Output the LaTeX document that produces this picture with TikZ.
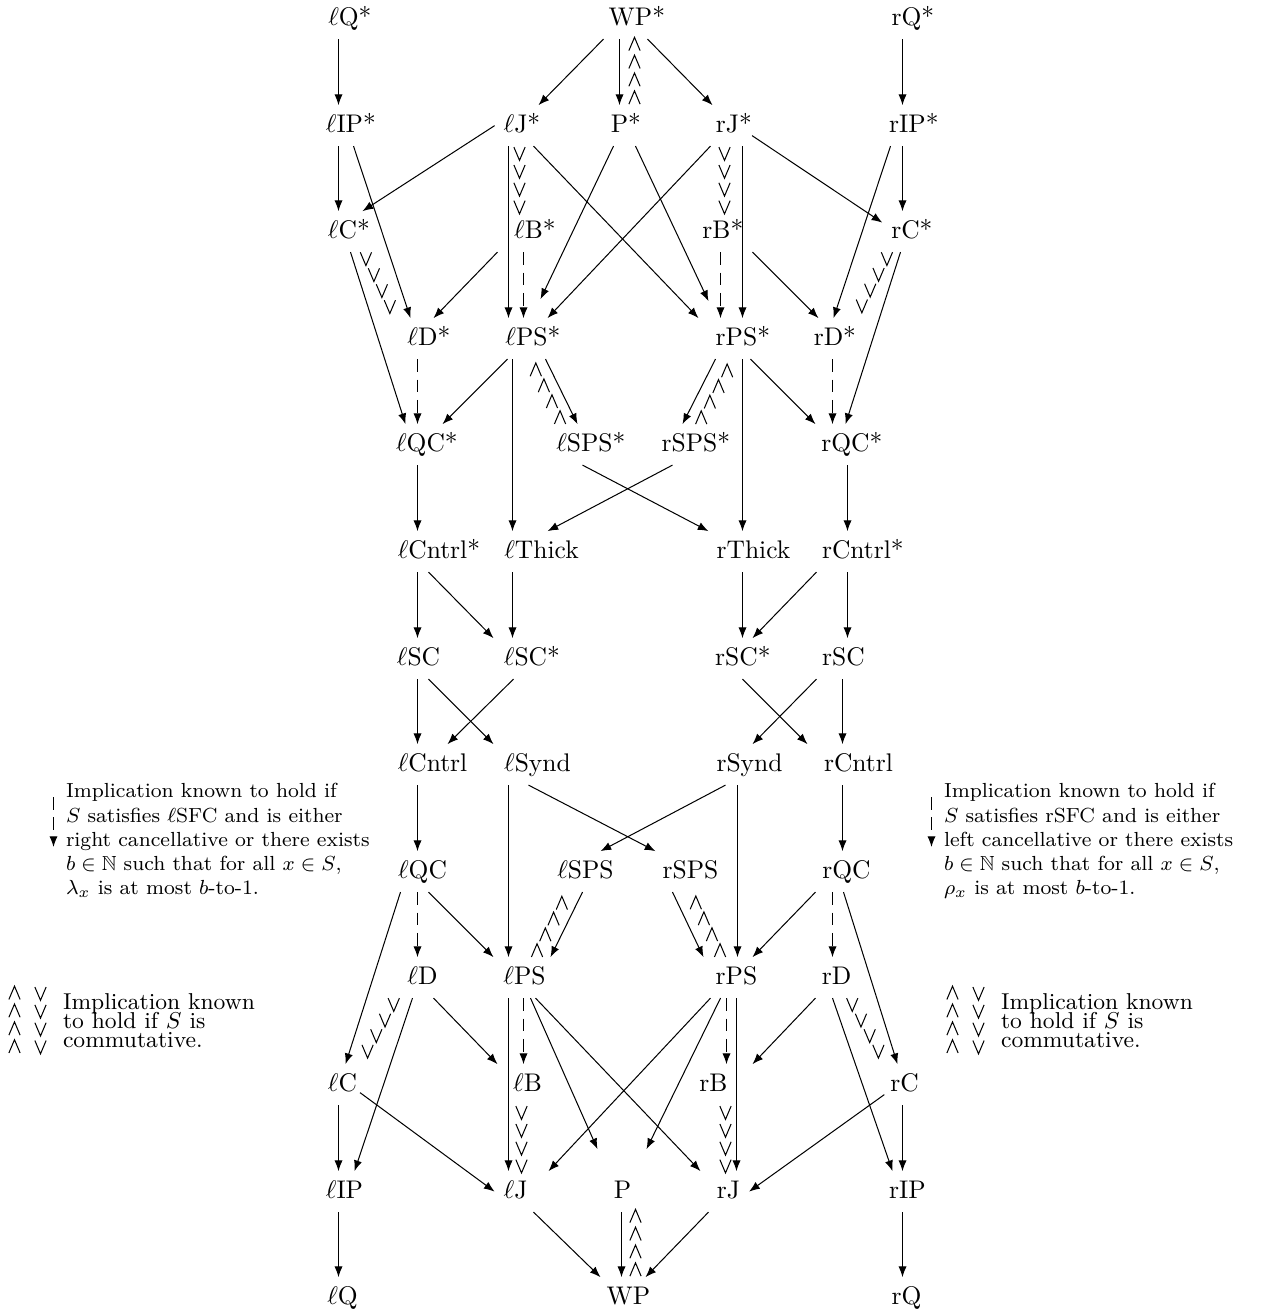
\documentclass[tikz,border=0pt]{standalone}
\usepackage{amsmath}
\usepackage{amssymb}
\usetikzlibrary{arrows.meta,calc,decorations.markings}

\tikzset{
  prop/.style={anchor=base, inner sep=3.33pt, text height=7pt, text depth=2pt},
  imp/.style={->},
  condimp/.style={->, dash pattern=on 5pt off 3pt},
  % chains of upright wedges: commdown draws \vee's, commup draws \wedge's
  commdown/.style={decorate, decoration={markings,
      mark=between positions 3pt and 1 step 7pt with {\pgftransformresetnontranslations
        \draw (-2.2pt,2.6pt) -- (0pt,-2.6pt) -- (2.2pt,2.6pt);}}},
  commup/.style={decorate, decoration={markings,
      mark=between positions 3pt and 1 step 7pt with {\pgftransformresetnontranslations
        \draw (-2.2pt,-2.6pt) -- (0pt,2.6pt) -- (2.2pt,-2.6pt);}}},
  legendtext/.style={font=\footnotesize, align=left, inner sep=0pt, anchor=north west},
  commtext/.style={font=\small, align=left, inner sep=0pt, anchor=north west},
}

\begin{document}
\begin{tikzpicture}[x=0.3922pt, y=-0.3922pt, >={Latex[length=4.2pt,width=3.2pt]}]
\useasboundingbox (0,0) rectangle (1263,1311);
\begin{scope}[shift={(0.5,0)}]

% row 0
\node[prop] (lQs) at (343,25) {$\ell$Q\rlap{*}};
\node[prop] (WPs) at (630,25) {WP\rlap{*}};
\node[prop] (rQs) at (906,25) {rQ\rlap{*}};
% row 1
\node[prop] (lIPs) at (344,132) {$\ell$IP\rlap{*}};
\node[prop] (lJs) at (515,132) {$\ell$J\rlap{*}};
\node[prop] (Ps) at (619,132) {P\rlap{*}};
\node[prop] (rJs) at (727,132) {rJ\rlap{*}};
\node[prop] (rIPs) at (907,132) {rIP\rlap{*}};
% row 2
\node[prop] (lCs) at (342,238) {$\ell$C\rlap{*}};
\node[prop] (lBs) at (528,238) {$\ell$B\rlap{*}};
\node[prop] (rBs) at (716,238) {rB\rlap{*}};
\node[prop] (rCs) at (905,238) {rC\rlap{*}};
% row 3
\node[prop] (lDs) at (422,345) {$\ell$D\rlap{*}};
\node[prop] (lPSs) at (526,345) {$\ell$PS\rlap{*}};
\node[prop] (rPSs) at (736,345) {rPS\rlap{*}};
\node[prop] (rDs) at (828,345) {rD\rlap{*}};
% row 4
\node[prop] (lQCs) at (420,451) {$\ell$QC\rlap{*}};
\node[prop] (lSPSs) at (584,451) {$\ell$SPS\rlap{*}};
\node[prop] (rSPSs) at (689,451) {rSPS\rlap{*}};
\node[prop] (rQCs) at (845,451) {rQC\rlap{*}};
% row 5
\node[prop] (lCntrls) at (432,558) {$\ell$Cntrl\rlap{*}};
\node[prop] (lThick) at (541,558) {$\ell$Thick};
\node[prop] (rThick) at (753,558) {rThick};
\node[prop] (rCntrls) at (856,558) {rCntrl\rlap{*}};
% row 6
\node[prop] (lSC) at (418,665) {$\ell$SC};
\node[prop] (lSCs) at (525,665) {$\ell$SC\rlap{*}};
\node[prop] (rSCs) at (736,665) {rSC\rlap{*}};
\node[prop] (rSC) at (843,665) {rSC};
% row 7
\node[prop] (lCntrl) at (432,771) {$\ell$Cntrl};
\node[prop] (lSynd) at (537,771) {$\ell$Synd};
\node[prop] (rSynd) at (749,771) {rSynd};
\node[prop] (rCntrl) at (858,771) {rCntrl};
% row 8
\node[prop] (lQC) at (422,878) {$\ell$QC};
\node[prop] (lSPS) at (585,878) {$\ell$SPS};
\node[prop] (rSPS) at (690,878) {rSPS};
\node[prop] (rQC) at (846,878) {rQC};
% row 9
\node[prop] (lD) at (422,984) {$\ell$D};
\node[prop] (lPS) at (524,984) {$\ell$PS};
\node[prop] (rPS) at (736,984) {rPS};
\node[prop] (rD) at (836,984) {rD};
% row 10
\node[prop] (lC) at (342,1091) {$\ell$C};
\node[prop] (lB) at (527,1091) {$\ell$B};
\node[prop] (rB) at (713,1091) {rB};
\node[prop] (rC) at (904,1091) {rC};
% row 11
\node[prop] (lIP) at (344,1198) {$\ell$IP};
\node[prop] (lJ) at (515,1198) {$\ell$J};
\node[prop] (P) at (622,1198) {P};
\node[prop] (rJ) at (728,1198) {rJ};
\node[prop] (rIP) at (907,1198) {rIP};
% row 12
\node[prop] (lQ) at (342,1304) {$\ell$Q};
\node[prop] (WP) at (628,1304) {WP};
\node[prop] (rQ) at (906,1304) {rQ};

% top half
\draw[imp] ($(lQs.south)+(-5,0)$) -- ($(lIPs.north)+(-6,0)$);
\draw[imp] ($(WPs.south)+(-27,0)$) -- ($(lJs.north)+(23,0)$);
\draw[imp] ($(WPs.south)+(-11,0)$) -- (Ps.north);
\path[commup] ($(Ps.north)+(15,0)$) -- ($(WPs.south)+(4,0)$);
\draw[imp] ($(WPs.south)+(17,0)$) -- ($(rJs.north)+(-15,0)$);
\draw[imp] ($(rQs.south)+(-4,0)$) -- ($(rIPs.north)+(-5,0)$);

\draw[imp] ($(lIPs.south)+(-6,0)$) -- ($(lCs.north)+(-4,0)$);
\draw[imp] ($(lIPs.south)+(9,0)$) -- ($(lDs.north)+(-12,0)$);
\draw[imp] (lJs.west) -- ($(lCs.north)+(20,0)$);
\path[commdown] ($(lJs.south)+(4,0)$) -- ($(lBs.north)+(-9,0)$);
\draw[imp] ($(lJs.south)+(-7,0)$) -- ($(lPSs.north)+(-18,0)$);
\draw[imp] ($(lJs.south)+(18,0)$) -- ($(rPSs.north)+(-38,0)$);
\draw[imp] ($(Ps.south)+(-6,0)$) -- ($(lPSs.north)+(14,-19)$);
\draw[imp] ($(Ps.south)+(16,0)$) -- ($(rPSs.north)+(-28,-17)$);
\draw[imp] ($(rJs.south)+(-17,0)$) -- ($(lPSs.north)+(21,0)$);
\path[commdown] ($(rJs.south)+(-3,0)$) -- ($(rBs.north)+(8,0)$);
\draw[imp] ($(rJs.south)+(15,0)$) -- ($(rPSs.north)+(6,0)$);
\draw[imp] ($(rJs.east)+(4,10)$) -- ($(rCs.west)+(0,-9)$);
\draw[imp] ($(rIPs.south)+(-5,0)$) -- ($(rCs.north)+(-3,0)$);
\draw[imp] ($(rIPs.south)+(-17,0)$) -- ($(rDs.north)+(5,0)$);

\path[commdown] ($(lCs.south)+(20,0)$) -- ($(lDs.north)+(-27,0)$);
\draw[imp] ($(lCs.south)+(8,0)$) -- ($(lQCs.north)+(-15,0)$);
\draw[imp] ($(lBs.south)+(-31,0)$) -- ($(lDs.north)+(11,0)$);
\draw[condimp] ($(lBs.south)+(-5,0)$) -- ($(lPSs.north)+(-3,0)$);
\draw[condimp] ($(rBs.south)+(4,0)$) -- ($(rPSs.north)+(-16,0)$);
\draw[imp] ($(rBs.south)+(36,0)$) -- ($(rDs.north)+(-10,0)$);
\path[commdown] ($(rCs.south)+(-15,0)$) -- ($(rDs.north)+(27,0)$);
\draw[imp] ($(rCs.south)+(-5,0)$) -- (rQCs.north);

\draw[condimp] ($(lDs.south)+(-5,0)$) -- ($(lQCs.north)+(-3,0)$);
\draw[imp] ($(lPSs.south)+(-19,0)$) -- ($(lQCs.north)+(22,0)$);
\draw[imp] ($(lPSs.south)+(19,0)$) -- ($(lSPSs.north)+(-7,0)$);
\path[commup] ($(lSPSs.north)+(-21,0)$) -- ($(lPSs.south)+(4,0)$);
\draw[imp] ($(lPSs.south)+(-14,0)$) -- ($(lThick.north)+(-29,0)$);
\draw[imp] ($(rPSs.south)+(-21,0)$) -- ($(rSPSs.north)+(-7,0)$);
\path[commup] ($(rSPSs.north)+(8,0)$) -- ($(rPSs.south)+(-3,0)$);
\draw[imp] ($(rPSs.south)+(6,0)$) -- ($(rThick.north)+(-11,0)$);
\draw[imp] ($(rPSs.south)+(14,0)$) -- ($(rQCs.north)+(-30,0)$);
\draw[condimp] ($(rDs.south)+(4,0)$) -- ($(rQCs.north)+(-13,0)$);

\draw[imp] ($(lQCs.south)+(-3,0)$) -- ($(lCntrls.north)+(-15,0)$);
\draw[imp] ($(lSPSs.south)+(-2,0)$) -- ($(rThick.north)+(-45,0)$);
\draw[imp] ($(rSPSs.south)+(-17,0)$) -- ($(lThick.north)+(6,0)$);
\draw[imp] ($(rQCs.south)+(2,0)$) -- ($(rCntrls.north)+(-9,0)$);

% middle
\draw[imp] ($(lCntrls.south)+(-15,0)$) -- ($(lSC.north)+(-1,0)$);
\draw[imp] ($(lCntrls.south)+(-4,0)$) -- ($(lSCs.north)+(-32,0)$);
\draw[imp] ($(lThick.south)+(-29,0)$) -- ($(lSCs.north)+(-13,0)$);
\draw[imp] ($(rThick.south)+(-11,0)$) -- ($(rSCs.north)+(6,0)$);
\draw[imp] ($(rCntrls.south)+(-40,0)$) -- ($(rSCs.north)+(16,0)$);
\draw[imp] ($(rCntrls.south)+(-9,0)$) -- ($(rSC.north)+(4,0)$);

\draw[imp] ($(lSC.south)+(-1,0)$) -- ($(lCntrl.north)+(-15,0)$);
\draw[imp] ($(lSC.south)+(10,0)$) -- ($(lSynd.north)+(-44,0)$);
\draw[imp] ($(lSCs.south)+(-12,0)$) -- ($(lCntrl.north)+(15,0)$);
\draw[imp] ($(rSCs.south)+(6,0)$) -- ($(rCntrl.north)+(-51,0)$);
\draw[imp] ($(rSC.south)+(-27,0)$) -- ($(rSynd.north)+(3,0)$);
\draw[imp] ($(rSC.south)+(-1,0)$) -- ($(rCntrl.north)+(-16,0)$);

\draw[imp] ($(lCntrl.south)+(-15,0)$) -- ($(lQC.north)+(-5,0)$);
\draw[imp] ($(lSynd.south)+(-29,0)$) -- ($(lPS.north)+(-16,0)$);
\draw[imp] ($(lSynd.south)+(-9,0)$) -- ($(rSPS.north)+(-35,0)$);
\draw[imp] ($(rSynd.south)+(-24,0)$) -- ($(lSPS.north)+(15,0)$);
\draw[imp] ($(rSynd.south)+(-12,0)$) -- ($(rPS.north)+(1,0)$);
\draw[imp] ($(rCntrl.south)+(-16,0)$) -- ($(rQC.north)+(-4,0)$);

% bottom half
\draw[imp] ($(lQC.south)+(-22,0)$) -- ($(lC.north)+(3,0)$);
\draw[condimp] ($(lQC.south)+(-5,0)$) -- ($(lD.north)+(-5,0)$);
\draw[imp] ($(lQC.south)+(6,0)$) -- ($(lPS.north)+(-31,0)$);
\draw[imp] ($(lSPS.south)+(-3,0)$) -- ($(lPS.north)+(26,0)$);
\path[commup] ($(lPS.north)+(9,0)$) -- ($(lSPS.south)+(-18,0)$);
\draw[imp] ($(rSPS.south)+(-18,0)$) -- ($(rPS.north)+(-33,0)$);
\path[commup] ($(rPS.north)+(-13,0)$) -- (rSPS.south);
\draw[imp] ($(rQC.south)+(-31,0)$) -- ($(rPS.north)+(16,0)$);
\draw[condimp] ($(rQC.south)+(-14,0)$) -- ($(rD.north)+(-4,0)$);
\draw[imp] ($(rQC.south)+(-3,0)$) -- ($(rC.north)+(-7,0)$);

\path[commdown] ($(lD.south)+(-25,0)$) -- ($(lC.north)+(18,0)$);
\draw[imp] ($(lD.south)+(-10,0)$) -- ($(lIP.north)+(10,0)$);
\draw[imp] ($(lD.south)+(11,0)$) -- ($(lB.north)+(-30,0)$);
\draw[imp] ($(lPS.south)+(-16,0)$) -- ($(lJ.north)+(-7,0)$);
\draw[condimp] ($(lPS.south)+(-1,0)$) -- ($(lB.north)+(-4,0)$);
\draw[imp] ($(lPS.south)+(6,0)$) -- ($(P.north)+(-25,-22)$);
\draw[imp] ($(lPS.south)+(11,0)$) -- ($(rJ.north)+(-28,0)$);
\draw[imp] ($(rPS.south)+(-26,0)$) -- ($(lJ.north)+(33,0)$);
\draw[imp] ($(rPS.south)+(-16,0)$) -- ($(P.north)+(24,-22)$);
\draw[condimp] ($(rPS.south)+(-10,0)$) -- ($(rB.north)+(13,0)$);
\draw[imp] (rPS.south) -- ($(rJ.north)+(8,0)$);
\draw[imp] ($(rD.south)+(-21,0)$) -- ($(rB.north)+(39,0)$);
\path[commdown] ($(rD.south)+(12,0)$) -- ($(rC.north)+(-19,0)$);
\draw[imp] ($(rD.south)+(-4,0)$) -- ($(rIP.north)+(-15,0)$);

\draw[imp] ($(lC.south)+(-4,0)$) -- ($(lIP.north)+(-6,0)$);
\draw[imp] ($(lC.east)+(-6,8)$) -- (lJ.west);
\path[commdown] ($(lB.south)+(-6,0)$) -- ($(lJ.north)+(6,0)$);
\path[commdown] ($(rB.south)+(12,0)$) -- ($(rJ.north)+(-3,0)$);
\draw[imp] ($(rC.west)+(3,10)$) -- (rJ.east);
\draw[imp] ($(rC.south)+(-2,0)$) -- ($(rIP.north)+(-5,0)$);

\draw[imp] ($(lIP.south)+(-6,0)$) -- ($(lQ.north)+(-4,0)$);
\draw[imp] ($(lJ.south)+(18,0)$) -- ($(WP.north)+(-28,0)$);
\draw[imp] ($(P.south)+(-1,0)$) -- ($(WP.north)+(-7,0)$);
\path[commup] ($(WP.north)+(7,0)$) -- ($(P.south)+(13,0)$);
\draw[imp] ($(rJ.south)+(-20,0)$) -- ($(WP.north)+(17,0)$);
\draw[imp] ($(rIP.south)+(-5,0)$) -- ($(rQ.north)+(-4,0)$);

% legends
\node[legendtext] (condL) at (65,783) {Implication known to hold if\\
  $S$ satisfies $\ell$SFC and is either\\
  right cancellative or there exists\\
  $b\in\mathbb{N}$ such that for all $x\in S$,\\
  $\lambda_x$ is at most $b$-to-1.};
\draw[condimp] ($(condL.north west)+(-12,14)$) -- ($(condL.north west)+(-12,64)$);
\node[legendtext] (condR) at (943,783) {Implication known to hold if\\
  $S$ satisfies rSFC and is either\\
  left cancellative or there exists\\
  $b\in\mathbb{N}$ such that for all $x\in S$,\\
  $\rho_x$ is at most $b$-to-1.};
\draw[condimp] ($(condR.north west)+(-12,14)$) -- ($(condR.north west)+(-12,64)$);

\node[commtext] (commL) at (62,993) {Implication known\\[-3.5pt]
  to hold if $S$ is\\[-3.5pt] commutative.};
\path[commup] ($(commL.north west)+(-48,61)$) -- ($(commL.north west)+(-48,-7)$);
\path[commdown] ($(commL.north west)+(-22,-7)$) -- ($(commL.north west)+(-22,61)$);
\node[commtext] (commR) at (1000,993) {Implication known\\[-3.5pt]
  to hold if $S$ is\\[-3.5pt] commutative.};
\path[commup] ($(commR.north west)+(-48,61)$) -- ($(commR.north west)+(-48,-7)$);
\path[commdown] ($(commR.north west)+(-22,-7)$) -- ($(commR.north west)+(-22,61)$);
\end{scope}
\end{tikzpicture}
\end{document}
